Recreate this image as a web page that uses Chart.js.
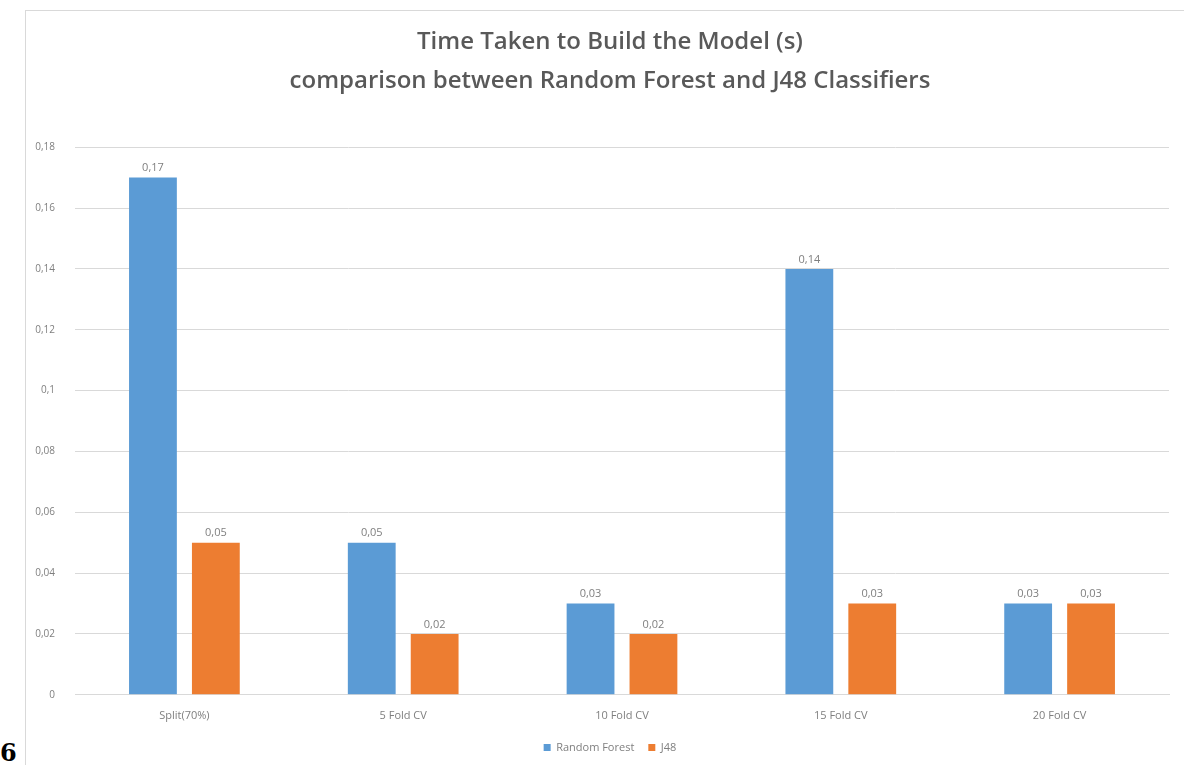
<!DOCTYPE html>
<html>
<head>
<meta charset="utf-8">
<script src="https://cdn.jsdelivr.net/npm/chart.js@4.4.0/dist/chart.umd.min.js"></script>
<style>
  body { margin: 0; background: #fff; width: 1184px; height: 765px; overflow: hidden; position: relative; }
  #frame { position: absolute; left: 25px; top: 10px; width: 1170px; height: 770px; border: 1px solid #d9d9d9; }
  #wrap { position: absolute; left: 0; top: 0; width: 1180px; height: 752px; }
  #pagenum { position: absolute; left: 0; top: 738px; font: bold 24px "DejaVu Serif", serif; color: #000; }
</style>
</head>
<body>
<div id="frame"><div id="wrap"><canvas id="myChart"></canvas></div></div>
<div id="pagenum">6</div>
<script>
// categories and values
var categories = ["Split(70%)", "5 Fold CV", "10 Fold CV", "15 Fold CV", "20 Fold CV"];
var randomForest = [0.17, 0.05, 0.03, 0.14, 0.03];
var j48 = [0.05, 0.02, 0.02, 0.03, 0.03];

function comma(v) {
    return String(Math.round(v * 100) / 100).replace('.', ',');
}

// value labels above the bars
var valueLabels = {
    id: 'valueLabels',
    afterDatasetsDraw: function (chart) {
        var ctx = chart.ctx;
        ctx.save();
        ctx.font = '11px "Open Sans", sans-serif';
        ctx.fillStyle = '#7f7f7f';
        ctx.textAlign = 'center';
        ctx.textBaseline = 'bottom';
        chart.data.datasets.forEach(function (ds, i) {
            chart.getDatasetMeta(i).data.forEach(function (bar, j) {
                ctx.fillText(comma(ds.data[j]), bar.x, bar.y - 4);
            });
        });
        ctx.restore();
    }
};

var ctx = document.getElementById("myChart");

var myBarChart = new Chart(ctx, {
    type: 'bar',
    data: {
        labels: categories,
        datasets: [
            {
                label: "Random Forest",
                data: randomForest,
                backgroundColor: "#5b9bd5",
                categoryPercentage: 0.575,
                barPercentage: 0.76
            },
            {
                label: "J48",
                data: j48,
                backgroundColor: "#ed7d31",
                categoryPercentage: 0.575,
                barPercentage: 0.76
            }
        ]
    },
    options: {
        responsive: true,
        maintainAspectRatio: false,
        animation: false,
        layout: { padding: { left: 0, right: 12, top: 11, bottom: 0 } },
        plugins: {
            title: {
                display: true,
                text: ["Time Taken to Build the Model (s)", "comparison between Random Forest and J48 Classifiers"],
                color: '#595959',
                font: { family: '"Open Sans", sans-serif', size: 24, weight: '600', lineHeight: 1.65 },
                padding: { top: 0, bottom: 46 }
            },
            legend: {
                position: 'bottom',
                labels: {
                    boxWidth: 7,
                    boxHeight: 7,
                    color: '#7f7f7f',
                    font: { family: '"Open Sans", sans-serif', size: 11 },
                    padding: 14
                }
            },
            tooltip: { enabled: false }
        },
        scales: {
            x: {
                grid: { display: false },
                border: { color: '#d9d9d9' },
                ticks: {
                    color: '#7f7f7f',
                    font: { family: '"Open Sans", sans-serif', size: 11 },
                    padding: 6
                }
            },
            y: {
                min: 0,
                max: 0.18,
                afterFit: function (scale) { scale.width = 49; },
                grid: { color: '#d9d9d9', drawTicks: false },
                border: { display: false },
                ticks: {
                    stepSize: 0.02,
                    color: '#7f7f7f',
                    font: { family: '"Open Sans", sans-serif', size: 10 },
                    padding: 20,
                    callback: function (v) { return comma(v); }
                }
            },
            // empty spacer on the right, keeps the plot narrower than the title
            yRight: {
                position: 'right',
                min: 0,
                max: 0.18,
                afterFit: function (scale) { scale.width = 25; },
                grid: { display: false },
                border: { display: false },
                ticks: { display: false }
            }
        }
    },
    plugins: [valueLabels]
});
</script>
</body>
</html>
